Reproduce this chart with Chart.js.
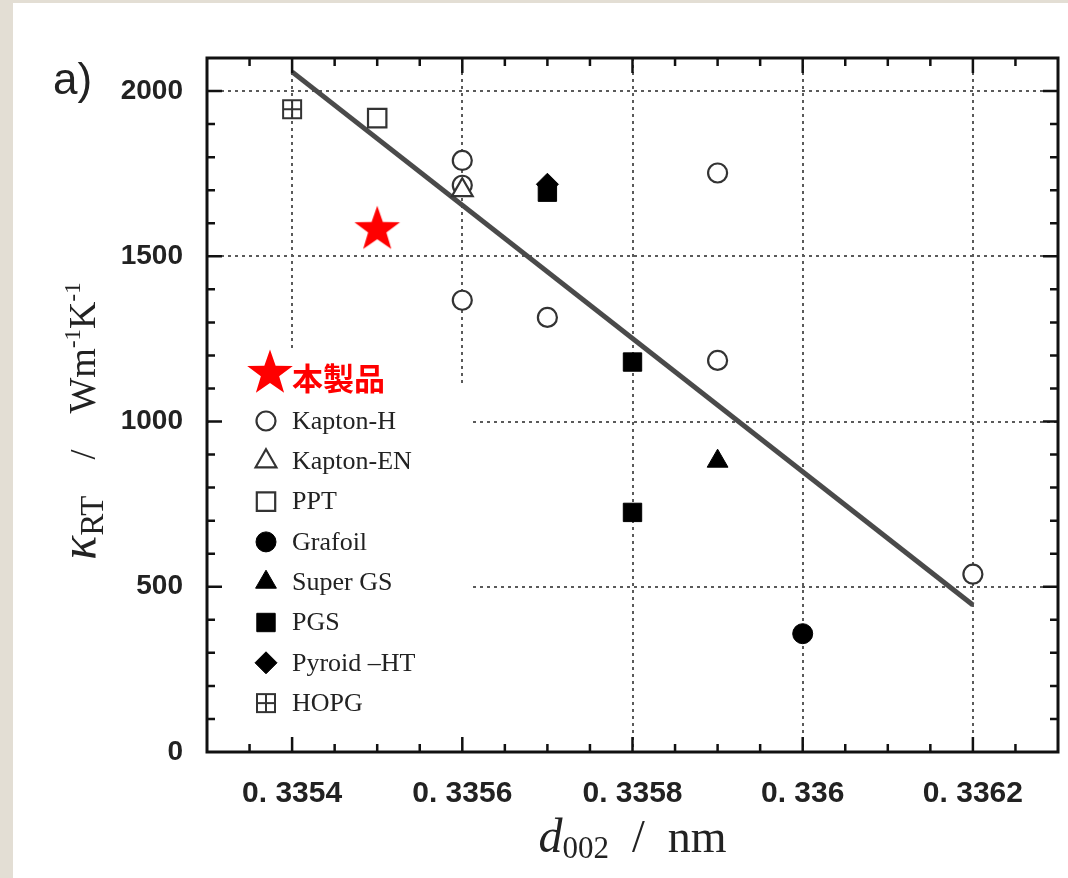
<!DOCTYPE html>
<html>
<head>
<meta charset="utf-8">
<script src="https://cdn.jsdelivr.net/npm/chart.js@4.4.0/dist/chart.umd.min.js"></script>
<style>
html, body { margin: 0; padding: 0; background: #e3ded4; }
#wrap { position: absolute; left: 0; top: 0; width: 1068px; height: 878px; }
</style>
</head>
<body>
<div id="wrap"><canvas id="myChart" width="1068" height="878"></canvas></div>
<script>
// axis ticks
var xTickValues = [0.3354, 0.3356, 0.3358, 0.3360, 0.3362];
var xTickLabels = ['0. 3354', '0. 3356', '0. 3358', '0. 336', '0. 3362'];
var yTickValues = [0, 500, 1000, 1500, 2000];
var yTickLabels = ['0', '500', '1000', '1500', '2000'];
var xMin = 0.3353, xMax = 0.3363;
var yMin = 0, yMax = 2100;

// series (d002 nm , kappa W/mK)
var product  = [{x: 0.33550, y: 1588}];
var kaptonH  = [{x: 0.3356, y: 1790}, {x: 0.3356, y: 1715}, {x: 0.3356, y: 1367}, {x: 0.3357, y: 1315},
                {x: 0.3359, y: 1752}, {x: 0.3359, y: 1185}, {x: 0.3362, y: 538}];
var kaptonEN = [{x: 0.3356, y: 1700}];
var ppt      = [{x: 0.33550, y: 1918}];
var grafoil  = [{x: 0.3360, y: 358}];
var superGS  = [{x: 0.3359, y: 880}];
var pgs      = [{x: 0.3357, y: 1694}, {x: 0.3358, y: 1180}, {x: 0.3358, y: 725}];
var pyroid   = [{x: 0.3357, y: 1718}];
var hopg     = [{x: 0.3354, y: 1945}];
var fitLine  = [{x: 0.3354, y: 2058}, {x: 0.3362, y: 445}];

var serif = '"Liberation Serif", "Times New Roman", serif';
var tickFont = '"Liberation Sans", Arial, sans-serif';

// red star marker
function makeStar(r)
{
    var c = document.createElement('canvas');
    c.width = c.height = r * 2 + 2;
    var g = c.getContext('2d');
    g.fillStyle = '#ff0000';
    g.beginPath();
    for (var i = 0; i < 10; i++) {
        var rr = (i % 2 === 0) ? r : r * 0.40;
        var a = -Math.PI / 2 + i * Math.PI / 5;
        var px = r + 1 + Math.cos(a) * rr;
        var py = r + 1 + Math.sin(a) * rr + r * 0.1;
        if (i === 0) g.moveTo(px, py); else g.lineTo(px, py);
    }
    g.closePath();
    g.fill();
    return c;
}

// square with cross (HOPG)
function makeHopg(s)
{
    var c = document.createElement('canvas');
    c.width = c.height = s + 4;
    var g = c.getContext('2d');
    g.strokeStyle = '#333';
    g.lineWidth = 2;
    g.strokeRect(2, 2, s, s);
    g.beginPath();
    g.moveTo(2 + s / 2, 2); g.lineTo(2 + s / 2, 2 + s);
    g.moveTo(2, 2 + s / 2); g.lineTo(2 + s, 2 + s / 2);
    g.stroke();
    return c;
}

var starImg = makeStar(24);
var hopgImg = makeHopg(18);

function series(label, data, style, radius, filled)
{
    return {
        label: label,
        data: data,
        pointStyle: style,
        pointRadius: radius,
        backgroundColor: filled ? '#000' : '#fff',
        borderColor: filled ? '#000' : '#333',
        borderWidth: filled ? 1 : 2.2,
        showLine: false
    };
}

var datasets = [
    series('本製品', product, starImg, 24, true),
    series('Kapton-EN', kaptonEN, 'triangle', 12, false),
    series('Kapton-H', kaptonH, 'circle', 9.5, false),
    series('PPT', ppt, 'rect', 13, false),
    series('Grafoil', grafoil, 'circle', 10, true),
    series('Super GS', superGS, 'triangle', 12, true),
    series('Pyroid –HT', pyroid, 'rectRot', 11, true),
    series('PGS', pgs, 'rect', 13, true),
    series('HOPG', hopg, hopgImg, 11, false),
    {
        label: 'fit',
        data: fitLine,
        showLine: true,
        borderColor: '#4a4a4a',
        borderWidth: 5,
        pointRadius: 0,
        fill: false
    }
];

var legendOrder = ['Kapton-H', 'Kapton-EN', 'PPT', 'Grafoil', 'Super GS', 'PGS', 'Pyroid –HT', 'HOPG'];

function drawRich(ctx, parts, x, y)
{
    var total = 0;
    parts.forEach(function(p) { ctx.font = p.font; p.w = ctx.measureText(p.t).width; total += p.w; });
    var cx = x - total / 2;
    parts.forEach(function(p) {
        ctx.font = p.font;
        ctx.fillText(p.t, cx, y + (p.dy || 0));
        cx += p.w;
    });
}

var decorPlugin = {
    id: 'decor',
    beforeDraw: function(chart)
    {
        var ctx = chart.ctx;
        ctx.save();
        ctx.fillStyle = '#e3ded4';
        ctx.fillRect(0, 0, chart.width, chart.height);
        ctx.fillStyle = '#ffffff';
        ctx.fillRect(13, 3, chart.width - 13, chart.height - 3);
        ctx.restore();
    },
    beforeDatasetsDraw: function(chart)
    {
        // legend background hides the grid
        var ctx = chart.ctx, a = chart.chartArea;
        ctx.save();
        ctx.fillStyle = '#ffffff';
        ctx.fillRect(a.left + 2, 348, 195, 42);
        ctx.fillRect(a.left + 2, 387, 262, a.bottom - 387 - 2);
        ctx.restore();
    },
    afterDatasetsDraw: function(chart)
    {
        var ctx = chart.ctx, a = chart.chartArea;
        var xs = chart.scales.x, ys = chart.scales.y;
        ctx.save();

        // frame
        ctx.strokeStyle = '#111';
        ctx.lineWidth = 3;
        ctx.strokeRect(a.left, a.top, a.right - a.left, a.bottom - a.top);

        // tick marks, inward on all sides
        ctx.lineWidth = 2.5;
        ctx.beginPath();
        for (var i = 1; i < 20; i++) {
            var px = xs.getPixelForValue(xMin + i * 0.00005);
            var len = (i % 4 === 2) ? 15 : 8;
            ctx.moveTo(px, a.bottom); ctx.lineTo(px, a.bottom - len);
            ctx.moveTo(px, a.top); ctx.lineTo(px, a.top + len);
        }
        for (var j = 1; j < 21; j++) {
            var py = ys.getPixelForValue(j * 100);
            var ln = (j % 5 === 0) ? 15 : 8;
            ctx.moveTo(a.left, py); ctx.lineTo(a.left + ln, py);
            ctx.moveTo(a.right, py); ctx.lineTo(a.right - ln, py);
        }
        ctx.stroke();

        // legend
        ctx.drawImage(starImg, 270 - starImg.width / 2, 371 - starImg.height / 2);
        ctx.fillStyle = '#ff0000';
        ctx.font = 'bold 31px "Noto Sans CJK JP", sans-serif';
        ctx.textBaseline = 'middle';
        ctx.fillText('本製品', 292, 378);

        legendOrder.forEach(function(name, k) {
            var d = datasets.filter(function(s) { return s.label === name; })[0];
            var ly = 421 + k * 40.3;
            ctx.fillStyle = d.backgroundColor;
            ctx.strokeStyle = d.borderColor;
            ctx.lineWidth = d.borderWidth;
            Chart.helpers.drawPoint(ctx, {
                pointStyle: d.pointStyle,
                radius: d.pointRadius,
                rotation: 0,
                borderWidth: d.borderWidth
            }, 266, ly);
            ctx.fillStyle = '#222';
            ctx.font = '26px ' + serif;
            ctx.textBaseline = 'middle';
            ctx.fillText(name, 292, ly + 1);
        });

        // a)
        ctx.fillStyle = '#222';
        ctx.textBaseline = 'alphabetic';
        ctx.font = '44px ' + tickFont;
        ctx.fillText('a)', 53, 94);

        // x title
        drawRich(ctx, [
            {t: 'd', font: 'italic 48px ' + serif},
            {t: '002', font: '31px ' + serif, dy: 6},
            {t: '  /  nm', font: '46px ' + serif}
        ], (a.left + a.right) / 2, 852);

        // y title
        ctx.translate(95, 421);
        ctx.rotate(-Math.PI / 2);
        drawRich(ctx, [
            {t: 'κ', font: 'italic 50px ' + serif},
            {t: 'RT', font: '33px ' + serif, dy: 8},
            {t: '    /    ', font: '36px ' + serif},
            {t: 'Wm', font: '38px ' + serif},
            {t: '-1', font: '23px ' + serif, dy: -15},
            {t: 'K', font: '38px ' + serif},
            {t: '-1', font: '23px ' + serif, dy: -15}
        ], 0, 0);
        ctx.restore();
    }
};

var ctx = document.getElementById('myChart');

var myChart = new Chart(ctx, {
    type: 'scatter',
    data: { datasets: datasets },
    options: {
        responsive: false,
        animation: false,
        events: [],
        devicePixelRatio: 1,
        layout: { autoPadding: false, padding: { left: 0, right: 10, top: 58, bottom: 0 } },
        plugins: {
            legend: { display: false },
            tooltip: { enabled: false },
            title: { display: false }
        },
        scales: {
            x: {
                type: 'linear',
                min: xMin,
                max: xMax,
                afterBuildTicks: function(scale) {
                    scale.ticks = xTickValues.map(function(v) { return {value: v}; });
                },
                afterFit: function(scale) {
                    scale.height = 126;
                    scale.paddingLeft = 0;
                    scale.paddingRight = 0;
                },
                ticks: {
                    padding: 24,
                    color: '#222',
                    maxRotation: 0,
                    font: { family: tickFont, size: 30, weight: 'bold' },
                    callback: function(value, index) { return xTickLabels[index]; }
                },
                grid: { color: '#5a5a5a', lineWidth: 2, drawTicks: false },
                border: { display: false, dash: [3, 4] }
            },
            y: {
                type: 'linear',
                min: yMin,
                max: yMax,
                afterBuildTicks: function(scale) {
                    scale.ticks = yTickValues.map(function(v) { return {value: v}; });
                },
                afterFit: function(scale) {
                    scale.width = 207;
                    scale.paddingTop = 0;
                    scale.paddingBottom = 0;
                },
                ticks: {
                    padding: 24,
                    color: '#222',
                    font: { family: tickFont, size: 28, weight: 'bold' },
                    callback: function(value, index) { return yTickLabels[index]; }
                },
                grid: { color: '#5a5a5a', lineWidth: 2, drawTicks: false },
                border: { display: false, dash: [3, 4] }
            }
        }
    },
    plugins: [decorPlugin]
});
</script>
</body>
</html>
